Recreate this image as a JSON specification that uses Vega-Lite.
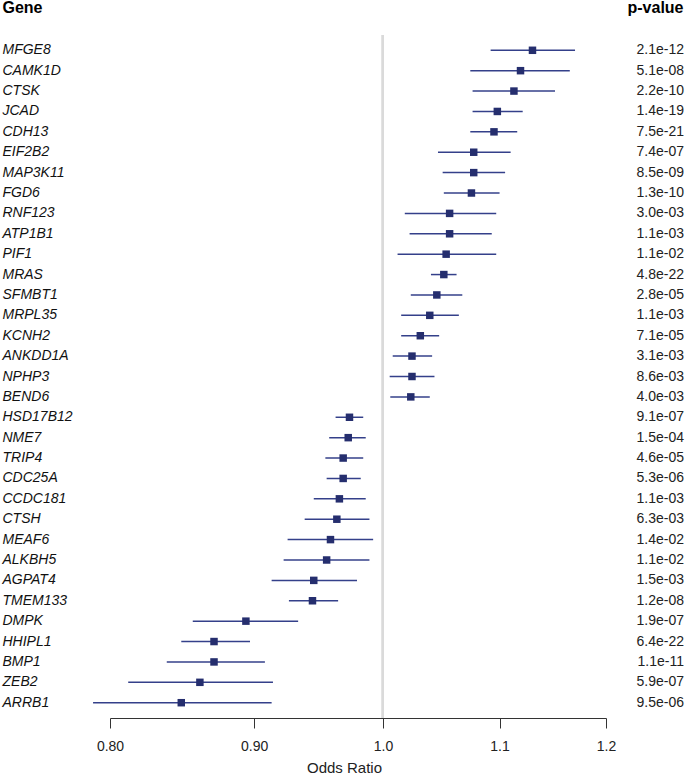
{
  "$schema": "https://vega.github.io/schema/vega-lite/v6.json",
  "autosize": "none",
  "width": 496,
  "height": 683,
  "padding": {"left": 110, "top": 35, "right": 79, "bottom": 55},
  "background": "white",
  "config": {"font": "Liberation Sans", "view": {"stroke": null}},
  "data": {"values": [
    {"gene": "MFGE8", "or": 1.130, "lo": 1.092, "hi": 1.170, "p": "2.1e-12"},
    {"gene": "CAMK1D", "or": 1.119, "lo": 1.074, "hi": 1.165, "p": "5.1e-08"},
    {"gene": "CTSK", "or": 1.113, "lo": 1.076, "hi": 1.151, "p": "2.2e-10"},
    {"gene": "JCAD", "or": 1.098, "lo": 1.076, "hi": 1.121, "p": "1.4e-19"},
    {"gene": "CDH13", "or": 1.095, "lo": 1.074, "hi": 1.116, "p": "7.5e-21"},
    {"gene": "EIF2B2", "or": 1.077, "lo": 1.046, "hi": 1.110, "p": "7.4e-07"},
    {"gene": "MAP3K11", "or": 1.077, "lo": 1.050, "hi": 1.105, "p": "8.5e-09"},
    {"gene": "FGD6", "or": 1.075, "lo": 1.051, "hi": 1.100, "p": "1.3e-10"},
    {"gene": "RNF123", "or": 1.056, "lo": 1.018, "hi": 1.097, "p": "3.0e-03"},
    {"gene": "ATP1B1", "or": 1.056, "lo": 1.022, "hi": 1.093, "p": "1.1e-03"},
    {"gene": "PIF1", "or": 1.053, "lo": 1.012, "hi": 1.097, "p": "1.1e-02"},
    {"gene": "MRAS", "or": 1.051, "lo": 1.040, "hi": 1.062, "p": "4.8e-22"},
    {"gene": "SFMBT1", "or": 1.045, "lo": 1.023, "hi": 1.067, "p": "2.8e-05"},
    {"gene": "MRPL35", "or": 1.039, "lo": 1.015, "hi": 1.064, "p": "1.1e-03"},
    {"gene": "KCNH2", "or": 1.031, "lo": 1.015, "hi": 1.047, "p": "7.1e-05"},
    {"gene": "ANKDD1A", "or": 1.024, "lo": 1.008, "hi": 1.041, "p": "3.1e-03"},
    {"gene": "NPHP3", "or": 1.024, "lo": 1.0055, "hi": 1.043, "p": "8.6e-03"},
    {"gene": "BEND6", "or": 1.023, "lo": 1.006, "hi": 1.039, "p": "4.0e-03"},
    {"gene": "HSD17B12", "or": 0.973, "lo": 0.962, "hi": 0.984, "p": "9.1e-07"},
    {"gene": "NME7", "or": 0.972, "lo": 0.957, "hi": 0.986, "p": "1.5e-04"},
    {"gene": "TRIP4", "or": 0.968, "lo": 0.954, "hi": 0.984, "p": "4.6e-05"},
    {"gene": "CDC25A", "or": 0.968, "lo": 0.955, "hi": 0.982, "p": "5.3e-06"},
    {"gene": "CCDC181", "or": 0.965, "lo": 0.945, "hi": 0.986, "p": "1.1e-03"},
    {"gene": "CTSH", "or": 0.963, "lo": 0.938, "hi": 0.989, "p": "6.3e-03"},
    {"gene": "MEAF6", "or": 0.958, "lo": 0.925, "hi": 0.992, "p": "1.4e-02"},
    {"gene": "ALKBH5", "or": 0.955, "lo": 0.922, "hi": 0.989, "p": "1.1e-02"},
    {"gene": "AGPAT4", "or": 0.945, "lo": 0.913, "hi": 0.979, "p": "1.5e-03"},
    {"gene": "TMEM133", "or": 0.944, "lo": 0.926, "hi": 0.964, "p": "1.2e-08"},
    {"gene": "DMPK", "or": 0.894, "lo": 0.856, "hi": 0.933, "p": "1.9e-07"},
    {"gene": "HHIPL1", "or": 0.871, "lo": 0.848, "hi": 0.897, "p": "6.4e-22"},
    {"gene": "BMP1", "or": 0.871, "lo": 0.838, "hi": 0.908, "p": "1.1e-11"},
    {"gene": "ZEB2", "or": 0.861, "lo": 0.812, "hi": 0.914, "p": "5.9e-07"},
    {"gene": "ARRB1", "or": 0.848, "lo": 0.789, "hi": 0.913, "p": "9.5e-06"}
  ]},
  "resolve": {"axis": {"y": "independent"}},
  "layer": [
    {
      "mark": {"type": "rule", "color": "#dadada", "strokeWidth": 2},
      "encoding": {"x": {"datum": 1, "type": "quantitative"}}
    },
    {
      "mark": {"type": "rule", "color": "#34408a", "strokeWidth": 1.5},
      "encoding": {
        "y": {"field": "gene", "type": "nominal", "sort": null, "scale": {"padding": 0.5},
          "axis": {"orient": "left", "labelAlign": "left", "labelPadding": 108, "ticks": false, "tickSize": 0, "domain": false,
            "labelFontStyle": "italic", "labelFontSize": 14, "labelColor": "#111111",
            "title": "Gene", "titleAngle": 0, "titleAlign": "left", "titleBaseline": "middle", "titleX": -108, "titleY": -28,
            "titleFontSize": 16, "titleFontWeight": "bold", "titleColor": "#000000"}},
        "x": {"field": "lo", "type": "quantitative",
          "scale": {"type": "log", "domain": [0.8, 1.2], "nice": false, "zero": false},
          "axis": {"values": [0.8, 0.9, 1.0, 1.1, 1.2],
            "labelExpr": "datum.value < 0.95 ? format(datum.value, '.2f') : format(datum.value, '.1f')",
            "grid": false, "tickSize": 10, "labelPadding": 11, "labelFontSize": 14, "labelColor": "#222222",
            "domainColor": "#333333", "tickColor": "#333333", "labelFlush": false,
            "title": "Odds Ratio", "titleFontWeight": "normal", "titleFontSize": 15, "titleColor": "#222222",
            "titleX": 234, "titleY": 54, "titleBaseline": "alphabetic", "titleAlign": "center"}},
        "x2": {"field": "hi"}
      }
    },
    {
      "mark": {"type": "point", "shape": "square", "filled": true, "size": 56, "color": "#252e6e", "opacity": 1},
      "encoding": {
        "y": {"field": "gene", "type": "nominal", "sort": null, "axis": null},
        "x": {"field": "or", "type": "quantitative"}
      }
    },
    {
      "mark": {"type": "text", "align": "right", "baseline": "middle", "fontSize": 14, "color": "#222222", "dx": 78},
      "encoding": {
        "y": {"field": "gene", "type": "nominal", "sort": null,
          "axis": {"orient": "right", "labels": false, "ticks": false, "domain": false, "offset": 0,
            "title": "p-value", "titleAngle": 0, "titleAlign": "right", "titleBaseline": "middle", "titleX": 77, "titleY": -28,
            "titleFontSize": 16, "titleFontWeight": "bold", "titleColor": "#000000"}},
        "x": {"value": "width"},
        "text": {"field": "p"}
      }
    }
  ]
}
